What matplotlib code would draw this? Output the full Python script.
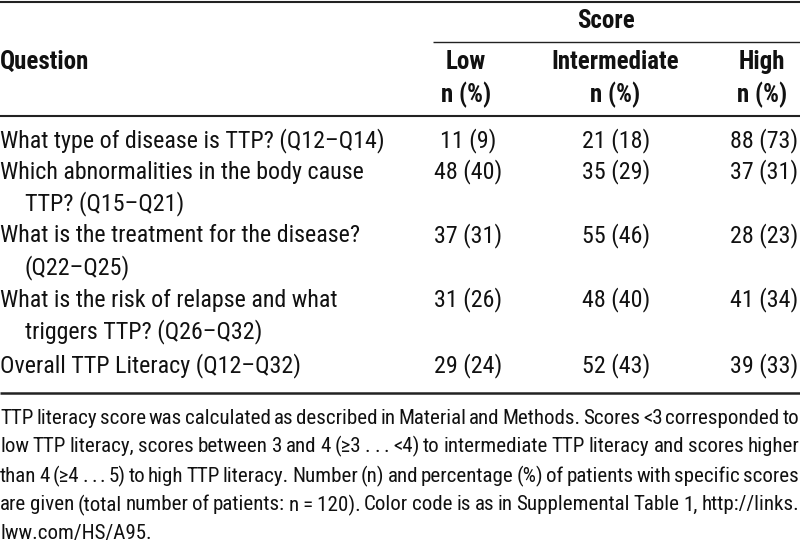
import matplotlib
matplotlib.use("Agg")
import matplotlib.pyplot as plt
from matplotlib import font_manager

names = {f.name for f in font_manager.fontManager.ttflist}
if "Liberation Sans Narrow" in names:
    FAM = ["Liberation Sans Narrow", "DejaVu Sans"]
    STRETCH = "normal"
elif "Roboto Condensed" in names:
    FAM = ["Roboto Condensed", "DejaVu Sans"]
    STRETCH = "normal"
else:
    FAM = ["DejaVu Sans"]
    STRETCH = "condensed"

# ---- data ----
questions = [
    ["What type of disease is TTP? (Q12\u2013Q14)"],
    ["Which abnormalities in the body cause", "TTP? (Q15\u2013Q21)"],
    ["What is the treatment for the disease?", "(Q22\u2013Q25)"],
    ["What is the risk of relapse and what", "triggers TTP? (Q26\u2013Q32)"],
    ["Overall TTP Literacy (Q12\u2013Q32)"],
]
low_n = [11, 48, 37, 31, 29]
low_pct = [9, 40, 31, 26, 24]
inter_n = [21, 35, 55, 48, 52]
inter_pct = [18, 29, 46, 40, 43]
high_n = [88, 37, 28, 41, 39]
high_pct = [73, 31, 23, 34, 33]
col_labels = ["Low", "Intermediate", "High"]
header_question = "Question"
header_group = "Score"
sub_label = "n (%)"
footnote = [
    "TTP literacy score was calculated as described in Material and Methods. Scores <3 corresponded to",
    "low TTP literacy, scores between 3 and 4 (\u22653 . . . <4) to intermediate TTP literacy and scores higher",
    "than 4 (\u22654 . . . 5) to high TTP literacy. Number (n) and percentage (%) of patients with specific scores",
    "are given (total number of patients: n\u2009=\u2009120). Color code is as in Supplemental Table 1, http://links.",
    "lww.com/HS/A95.",
]

W, H = 800, 544
fig = plt.figure(figsize=(W / 100, H / 100), dpi=100)
ax = fig.add_axes([0, 0, 1, 1])
ax.set_xlim(0, W)
ax.set_ylim(H, 0)
ax.axis("off")

FS = 17.3
FS_H = 18.0
FS_F = 15.1
txt_kw = dict(family=FAM, fontstretch=STRETCH, color="#111111")

# lines
ax.plot([0, W], [1.5, 1.5], color="#222222", lw=1.5, solid_capstyle="butt")
ax.plot([433, W], [41.5, 41.5], color="#222222", lw=1.0, solid_capstyle="butt")
ax.plot([0, W], [115.5, 115.5], color="#222222", lw=1.5, solid_capstyle="butt")
ax.plot([0, W], [392.5, 392.5], color="#222222", lw=1.8, solid_capstyle="butt")

# header
ax.text(0, 62, header_question, ha="left", va="center", fontsize=FS_H, fontweight="bold", **txt_kw)
ax.text(606, 21, header_group, ha="center", va="center", fontsize=FS_H, fontweight="bold", **txt_kw)
col_x = [466, 615, 762]
for i, lab in enumerate(col_labels):
    ax.text(col_x[i], 62, lab, ha="center", va="center", fontsize=FS_H, fontweight="bold", **txt_kw)
    ax.text(col_x[i], 95, sub_label, ha="center", va="center", fontsize=FS_H, fontweight="bold", **txt_kw)

# body
row_y = [141, 172, 236, 300, 366]
line_gap = 31.5
num_x = [468, 616, 764]
for r, q in enumerate(questions):
    for k, line in enumerate(q):
        ax.text(0 if k == 0 else 25, row_y[r] + k * line_gap, line, ha="left", va="center",
                fontsize=FS, **txt_kw)
    vals = [(low_n[r], low_pct[r]), (inter_n[r], inter_pct[r]), (high_n[r], high_pct[r])]
    for c, (n, p) in enumerate(vals):
        ax.text(num_x[c], row_y[r], f"{n} ({p})", ha="center", va="center", fontsize=FS, **txt_kw)

# footnote, justified
fig.canvas.draw()
renderer = fig.canvas.get_renderer()
foot_y = [418, 446, 476, 505, 533]
sp = ax.text(0, 0, "a a", fontsize=FS_F, **txt_kw)
sp2 = ax.text(0, 0, "aa", fontsize=FS_F, **txt_kw)
normal_gap = sp.get_window_extent(renderer).width - sp2.get_window_extent(renderer).width
sp.remove(); sp2.remove()
for li, line in enumerate(footnote):
    words = line.split(" ")
    objs = [ax.text(0, foot_y[li], w, ha="left", va="center", fontsize=FS_F, **txt_kw) for w in words]
    widths = [o.get_window_extent(renderer).width for o in objs]
    if li < len(footnote) - 1 and len(words) > 1:
        gap = (W - 1 - sum(widths)) / (len(words) - 1)
    else:
        gap = normal_gap
    x = 0.0
    for o, w in zip(objs, widths):
        o.set_x(x)
        x += w + gap

fig.savefig("out.png", dpi=100)
